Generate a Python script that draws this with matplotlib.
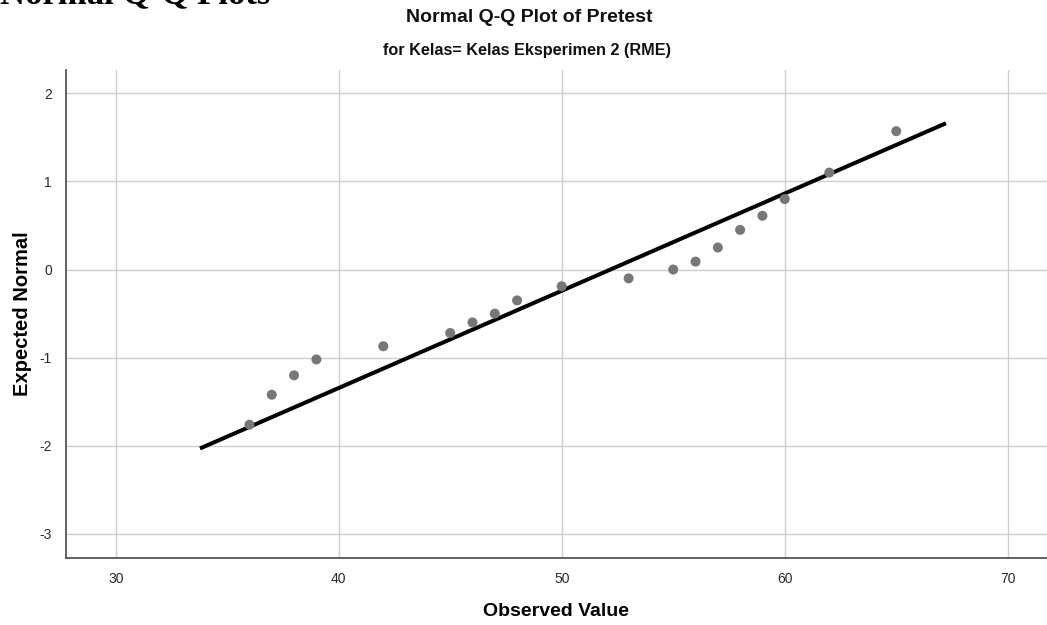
import matplotlib
matplotlib.use("Agg")
import matplotlib.pyplot as plt

plt.rcParams["axes.unicode_minus"] = False

# Data
observed = [36, 37, 38, 39, 42, 45, 46, 47, 48, 50, 53, 55, 56, 57, 58, 59, 60, 62, 65]
expected = [-1.76, -1.42, -1.20, -1.02, -0.87, -0.72, -0.60, -0.50, -0.35, -0.19,
            -0.10, 0.00, 0.09, 0.25, 0.45, 0.61, 0.80, 1.10, 1.57]
line_x = [33.78, 67.23]
line_y = [-2.03, 1.66]
x_ticks = [30, 40, 50, 60, 70]
y_ticks = [-3, -2, -1, 0, 1, 2]

W, H = 1047, 625
fig = plt.figure(figsize=(W / 100, H / 100), dpi=100)
fig.patch.set_facecolor("white")

sans = ["Liberation Sans", "DejaVu Sans"]
serif = ["Liberation Serif", "DejaVu Serif"]

ax = fig.add_axes([65.7 / W, 1 - 558.3 / H, 1 - 65.7 / W, (558.3 - 70) / H])
ax.set_xlim(27.76, 71.76)
ax.set_ylim(-3.276, 2.264)

ax.set_xticks(x_ticks)
ax.set_yticks(y_ticks)
ax.grid(True, color="#cfcfcf", linewidth=1.0)
ax.set_axisbelow(True)
ax.tick_params(length=0, labelsize=10, colors="#2a2a2a")
ax.tick_params(axis="x", pad=10)
ax.tick_params(axis="y", pad=10)
for lab in ax.get_xticklabels() + ax.get_yticklabels():
    lab.set_family(sans)

for s in ["top", "right"]:
    ax.spines[s].set_visible(False)
for s in ["left", "bottom"]:
    ax.spines[s].set_color("#555555")
    ax.spines[s].set_linewidth(1.3)

ax.plot(line_x, line_y, color="black", linewidth=2.9, solid_capstyle="butt", zorder=3)
ax.scatter(observed, expected, s=52, color="#777777", edgecolors="none", zorder=4)

ax.set_xlabel("Observed Value", family=sans, fontsize=14, fontweight="bold", labelpad=12)
ax.set_ylabel("Expected Normal", family=sans, fontsize=14.5, fontweight="bold", labelpad=5)

fig.text(529 / W, 1 - 18 / H, "Normal Q-Q Plot of Pretest", family=sans, fontsize=14,
         fontweight="bold", ha="center", va="center", color="#111111")
fig.text(527 / W, 1 - 50 / H, "for Kelas= Kelas Eksperimen 2 (RME)", family=sans, fontsize=11.7,
         fontweight="bold", ha="center", va="center", color="#111111")
fig.text(0.0, 1 - 3 / H, "Normal Q-Q Plots", family=serif, fontsize=25,
         fontweight="bold", ha="left", va="baseline", color="black")

fig.savefig("out.png", dpi=100)
